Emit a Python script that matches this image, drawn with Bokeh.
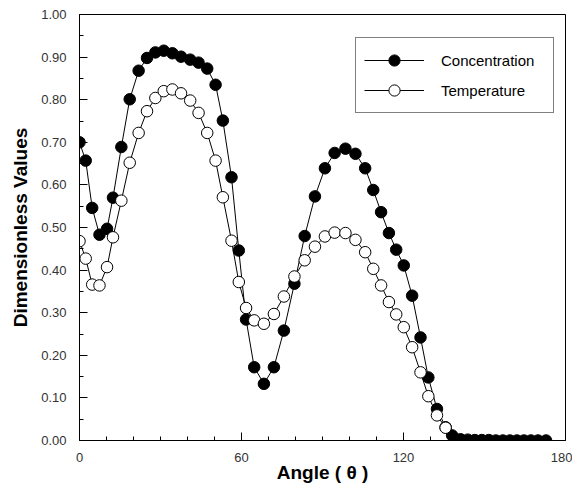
from bokeh.plotting import figure
from bokeh.models import Range1d, FixedTicker, Legend, LegendItem, PrintfTickFormatter
from bokeh.embed import file_html
from bokeh.resources import INLINE

angle = [0, 2.3, 4.7, 7.4, 10.2, 12.4, 15.5, 18.6, 21.9, 25.0, 28.1, 31.2, 34.4, 37.6,
         41.0, 44.1, 47.3, 50.4, 53.1, 56.3, 59.0, 61.7, 64.7, 68.3, 72.0, 75.7, 79.6,
         83.4, 87.2, 90.9, 94.5, 98.5, 102.2, 105.8, 108.8, 111.7, 114.6, 117.3, 120.1,
         123.2, 126.3, 129.2, 132.4, 135.6, 138.0, 141.1, 143.8, 146.4, 149.0, 151.6,
         154.2, 156.8, 159.4, 162.0, 164.6, 167.2, 169.8, 172.8]

concentration = [0.700, 0.657, 0.546, 0.483, 0.497, 0.570, 0.689, 0.801, 0.868, 0.898,
                 0.911, 0.915, 0.909, 0.901, 0.894, 0.887, 0.873, 0.835, 0.751, 0.618,
                 0.446, 0.284, 0.172, 0.133, 0.172, 0.258, 0.368, 0.480, 0.573, 0.639,
                 0.675, 0.685, 0.673, 0.639, 0.588, 0.536, 0.487, 0.448, 0.411, 0.340,
                 0.242, 0.148, 0.074, 0.031, 0.012, 0.003, 0.002, 0.001, 0.001, 0.001,
                 0.0, 0.0, 0.0, 0.0, 0.0, 0.0, 0.0, 0.0]

temperature = [0.468, 0.427, 0.366, 0.364, 0.407, 0.477, 0.563, 0.652, 0.722, 0.773,
               0.804, 0.820, 0.824, 0.815, 0.798, 0.769, 0.722, 0.657, 0.571, 0.469,
               0.372, 0.311, 0.282, 0.274, 0.297, 0.338, 0.385, 0.423, 0.455, 0.479,
               0.488, 0.487, 0.471, 0.442, 0.403, 0.364, 0.325, 0.296, 0.266, 0.219,
               0.160, 0.104, 0.059, 0.030]

x_ticks = [0, 60, 120, 180]
x_minor = [10, 20, 30, 40, 50, 70, 80, 90, 100, 110, 130, 140, 150, 160, 170]
y_ticks = [0.0, 0.1, 0.2, 0.3, 0.4, 0.5, 0.6, 0.7, 0.8, 0.9, 1.0]
y_minor = [0.05, 0.15, 0.25, 0.35, 0.45, 0.55, 0.65, 0.75, 0.85, 0.95]

p = figure(width=572, height=488, output_backend="svg", toolbar_location=None,
           x_range=Range1d(0, 180), y_range=Range1d(0, 1),
           min_border_left=79, min_border_right=7, min_border_top=14, min_border_bottom=48)
p.background_fill_color = "white"
p.border_fill_color = "white"
p.outline_line_color = "black"
p.outline_line_width = 1
p.xgrid.visible = False
p.ygrid.visible = False

for ax in (p.xaxis[0], p.yaxis[0]):
    ax.axis_line_color = "black"
    ax.major_tick_in = 8
    ax.major_tick_out = 0
    ax.minor_tick_in = 4
    ax.minor_tick_out = 0
    ax.major_tick_line_color = "black"
    ax.minor_tick_line_color = "black"
    ax.major_label_text_font = "Liberation Sans"
    ax.major_label_text_font_size = "13px"
    ax.major_label_text_color = "#333333"
    ax.axis_label_text_font = "Liberation Sans"
    ax.axis_label_text_font_style = "bold"
    ax.axis_label_text_font_size = "19px"
    ax.axis_label_text_color = "black"

p.xaxis.ticker = FixedTicker(ticks=x_ticks, minor_ticks=x_minor)
p.yaxis.ticker = FixedTicker(ticks=y_ticks, minor_ticks=y_minor)
p.yaxis.formatter = PrintfTickFormatter(format="%.2f")
p.xaxis.axis_label = "Angle ( θ )"
p.yaxis.axis_label = "Dimensionless Values"
p.xaxis.major_label_standoff = 12
p.xaxis.axis_label_standoff = -3
p.yaxis.major_label_standoff = 13
p.yaxis.axis_label_standoff = 7

c_line = p.line(angle, concentration, line_color="black", line_width=1)
c_pts = p.scatter(angle, concentration, marker="circle", size=11.5,
                  fill_color="black", line_color="black", line_width=1)
t_angle = angle[:len(temperature)]
t_line = p.line(t_angle, temperature, line_color="black", line_width=1)
t_pts = p.scatter(t_angle, temperature, marker="circle", size=11.5,
                  fill_color="white", line_color="black", line_width=1)

legend = Legend(items=[LegendItem(label="Concentration", renderers=[c_line, c_pts]),
                       LegendItem(label="Temperature", renderers=[t_line, t_pts])],
                location=(276, 327))
legend.border_line_color = "black"
legend.border_line_width = 1
legend.background_fill_color = "white"
legend.background_fill_alpha = 1
legend.padding = 8
legend.spacing = 2
legend.glyph_width = 60
legend.glyph_height = 28
legend.label_height = 28
legend.label_standoff = 17
legend.label_width = 104
legend.margin = 0
legend.label_text_font = "Liberation Sans"
legend.label_text_font_size = "15px"
legend.label_text_color = "black"
p.add_layout(legend, "center")

open("out.html", "w").write(file_html(p, INLINE))
